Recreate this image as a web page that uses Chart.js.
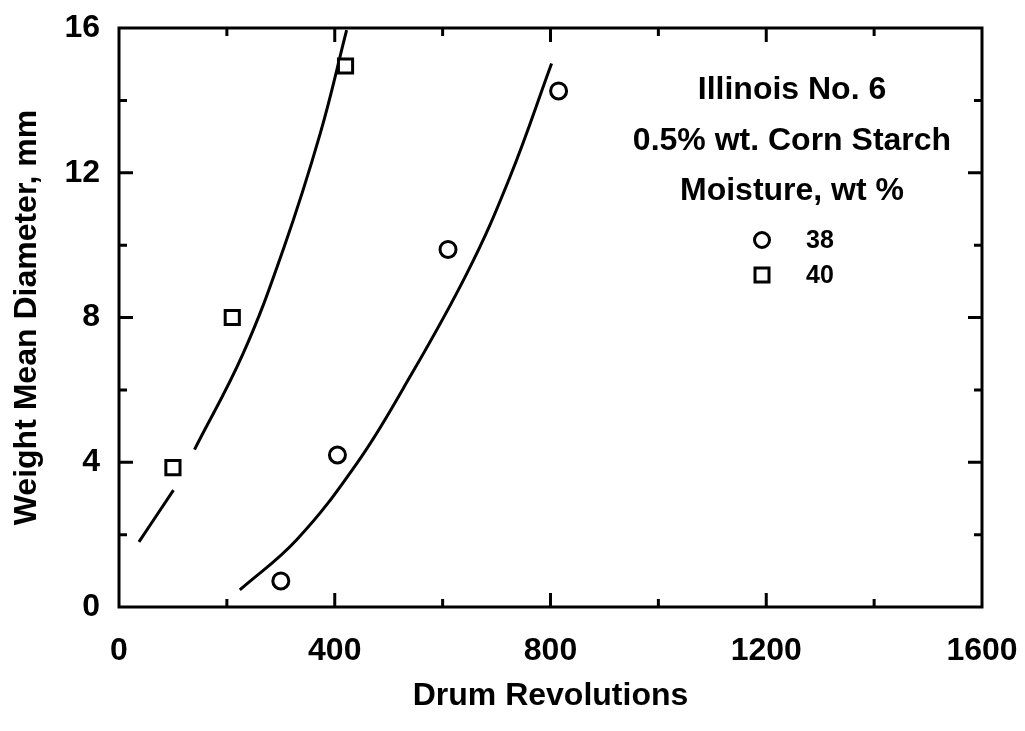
<!DOCTYPE html>
<html>
<head>
<meta charset="utf-8">
<script src="https://cdn.jsdelivr.net/npm/chart.js@4/dist/chart.umd.min.js"></script>
<style>
  html, body { margin: 0; padding: 0; background: #fff; }
  #wrap { width: 1025px; height: 731px; }
</style>
</head>
<body>
<div id="wrap"><canvas id="wmd-chart"></canvas></div>
<script>
// measured points, moisture 38 wt% (circles) and 40 wt% (squares)
var revolutions38 = [300, 405, 610, 815];
var diameter38 = [0.72, 4.2, 9.88, 14.26];
var revolutions40 = [100, 210, 420];
var diameter40 = [3.85, 8.0, 14.95];

// fitted curves (null = gap in the line around a marker)
var fitRevolutions38 = [224, 329, 441, 527, 645, 725, 802];
var fitDiameter38 = [0.47, 1.85, 3.97, 6.04, 9.22, 11.89, 15.02];
var fitRevolutions40 = [37, 101, 120, 140, 230, 305, 373, 422];
var fitDiameter40 = [1.8, 3.23, null, 4.35, 7.0, 9.9, 13.08, 15.94];

var xTickLabels = [0, 400, 800, 1200, 1600];
var yTickLabels = [0, 4, 8, 12, 16];
var legendLines = ["Illinois No. 6", "0.5% wt. Corn Starch", "Moisture, wt %"];
var legendEntries = ["38", "40"];

var FONT = "'Liberation Sans', Arial, Helvetica, sans-serif";

function toPoints(xs, ys) {
  return xs.map(function (x, i) { return { x: x, y: ys[i] }; });
}

// keep the plot box where the layout padding puts it
function noOverflow(scale) {
  scale.paddingLeft = 0;
  scale.paddingRight = 0;
  scale.paddingTop = 0;
  scale.paddingBottom = 0;
}

// frame with inward ticks on all four sides + the text legend block
var framePlugin = {
  id: 'frame',
  afterDraw: function (chart) {
    var ctx = chart.ctx;
    var a = chart.chartArea;
    var xs = chart.scales.x, ys = chart.scales.y;
    ctx.save();
    ctx.strokeStyle = '#000';
    ctx.lineWidth = 3;
    ctx.strokeRect(a.left, a.top, a.right - a.left, a.bottom - a.top);

    xs.ticks.forEach(function (t) {
      var px = xs.getPixelForValue(t.value);
      var len = xTickLabels.indexOf(t.value) >= 0 ? 14 : 8;
      if (t.value === xs.min || t.value === xs.max) return;
      ctx.beginPath();
      ctx.moveTo(px, a.bottom); ctx.lineTo(px, a.bottom - len);
      ctx.moveTo(px, a.top); ctx.lineTo(px, a.top + len);
      ctx.stroke();
    });
    ys.ticks.forEach(function (t) {
      var py = ys.getPixelForValue(t.value);
      var len = yTickLabels.indexOf(t.value) >= 0 ? 14 : 8;
      if (t.value === ys.min || t.value === ys.max) return;
      ctx.beginPath();
      ctx.moveTo(a.left, py); ctx.lineTo(a.left + len, py);
      ctx.moveTo(a.right, py); ctx.lineTo(a.right - len, py);
      ctx.stroke();
    });

    // legend text block
    ctx.fillStyle = '#000';
    ctx.textAlign = 'center';
    ctx.textBaseline = 'middle';
    ctx.font = 'bold 32px ' + FONT;
    var lineY = [90, 141, 191];
    legendLines.forEach(function (txt, i) {
      ctx.fillText(txt, 792, lineY[i]);
    });

    ctx.font = 'bold 25px ' + FONT;
    ctx.textAlign = 'left';
    var entryY = [240, 275];
    legendEntries.forEach(function (txt, i) {
      var cx = 762, cy = entryY[i];
      ctx.lineWidth = 3;
      ctx.beginPath();
      if (i === 0) {
        ctx.arc(cx, cy, 7.5, 0, Math.PI * 2);
      } else {
        ctx.rect(cx - 7, cy - 7, 14, 14);
      }
      ctx.stroke();
      ctx.fillText(txt, 806, cy + 1);
    });
    ctx.restore();
  }
};

var chartCanvas = document.getElementById('wmd-chart');
var wmdChart = new Chart(chartCanvas, {
  type: 'scatter',
  data: {
    datasets: [
      {
        label: '38',
        data: toPoints(revolutions38, diameter38),
        pointStyle: 'circle',
        pointRadius: 8,
        pointBorderWidth: 3,
        pointBorderColor: '#000',
        pointBackgroundColor: '#fff',
        showLine: false
      },
      {
        label: '40',
        data: toPoints(revolutions40, diameter40),
        pointStyle: 'rect',
        pointRadius: 10,
        pointBorderWidth: 3,
        pointBorderColor: '#000',
        pointBackgroundColor: '#fff',
        showLine: false
      },
      {
        label: 'fit 38',
        data: toPoints(fitRevolutions38, fitDiameter38),
        showLine: true,
        borderColor: '#000',
        borderWidth: 3,
        pointRadius: 0,
        tension: 0.4
      },
      {
        label: 'fit 40',
        data: toPoints(fitRevolutions40, fitDiameter40),
        showLine: true,
        spanGaps: false,
        borderColor: '#000',
        borderWidth: 3,
        pointRadius: 0,
        tension: 0.4
      }
    ]
  },
  options: {
    responsive: true,
    maintainAspectRatio: false,
    animation: false,
    layout: { padding: { top: 28, right: 43, left: 0, bottom: 0 } },
    plugins: {
      legend: { display: false },
      tooltip: { enabled: false }
    },
    scales: {
      x: {
        type: 'linear',
        min: 0,
        max: 1600,
        border: { display: false },
        grid: { display: false },
        ticks: {
          stepSize: 200,
          autoSkip: false,
          maxRotation: 0,
          padding: 17,
          color: '#000',
          font: { family: FONT, size: 32, weight: 'bold' },
          callback: function (v) { return xTickLabels.indexOf(v) >= 0 ? String(v) : ''; }
        },
        title: {
          display: true,
          text: 'Drum Revolutions',
          color: '#000',
          font: { family: FONT, size: 32, weight: 'bold' },
          padding: { top: 0, bottom: 16 }
        },
        afterFit: function (scale) { scale.height = 124; noOverflow(scale); }
      },
      y: {
        type: 'linear',
        min: 0,
        max: 16,
        border: { display: false },
        grid: { display: false },
        ticks: {
          stepSize: 2,
          autoSkip: false,
          padding: 11,
          color: '#000',
          font: { family: FONT, size: 32, weight: 'bold' },
          callback: function (v) { return yTickLabels.indexOf(v) >= 0 ? String(v) : ''; }
        },
        title: {
          display: true,
          text: 'Weight Mean Diameter, mm',
          color: '#000',
          font: { family: FONT, size: 32, weight: 'bold' },
          padding: { top: 8, bottom: 0 }
        },
        afterFit: function (scale) { scale.width = 119; noOverflow(scale); }
      }
    }
  },
  plugins: [framePlugin]
});
</script>
</body>
</html>
